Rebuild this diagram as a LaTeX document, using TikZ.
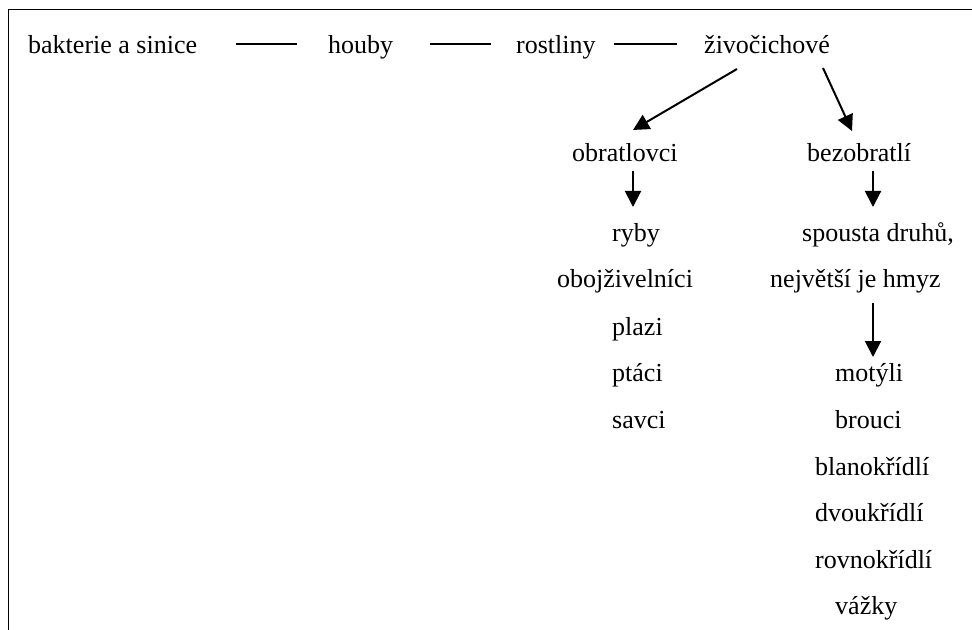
\documentclass[tikz,border=0pt]{standalone}
\usepackage{fontspec}
\setmainfont{Liberation Serif}
\usetikzlibrary{arrows.meta}
\begin{document}
\begin{tikzpicture}[x=1bp,y=-1bp,
  lbl/.style={anchor=base west,inner sep=0pt,font=\fontsize{26bp}{30bp}\selectfont},
  conn/.style={line width=1.6bp},
  arr/.style={line width=2bp,-{Triangle[length=16bp,width=16bp]}},
  frame/.style={line width=1.5bp}]
\useasboundingbox (0,0) rectangle (972,630);
\coordinate (fb) at (8.5,630);
\coordinate (fc) at (8.5,9.5);
\coordinate (fr) at (972,9.5);
\draw[frame] (fb) -- (fc) -- (fr);
% first row
\node[lbl] (bak) at (28,54) {bakterie a sinice};
\node[lbl] (hou) at (328,54) {houby};
\node[lbl] (ros) at (516,54) {rostliny};
\node[lbl] (ziv) at (704,54) {živočichové};
\coordinate (d1a) at (236,44); \coordinate (d1b) at (297,44);
\coordinate (d2a) at (430,44); \coordinate (d2b) at (491,44);
\coordinate (d3a) at (614,44); \coordinate (d3b) at (677,44);
\draw[conn] (d1a) -- (d1b);
\draw[conn] (d2a) -- (d2b);
\draw[conn] (d3a) -- (d3b);
% second row
\node[lbl] (obr) at (572,162) {obratlovci};
\node[lbl] (bez) at (807,162) {bezobratlí};
\coordinate (a1s) at (737,69); \coordinate (a1e) at (633,130);
\coordinate (a2s) at (823,68); \coordinate (a2e) at (852,131);
\draw[arr] (a1s) -- (a1e);
\draw[arr] (a2s) -- (a2e);
\coordinate (v1s) at (633,171); \coordinate (v1e) at (633,207);
\coordinate (v2s) at (873,171); \coordinate (v2e) at (873,207);
\draw[arr] (v1s) -- (v1e);
\draw[arr] (v2s) -- (v2e);
% left column
\node[lbl] (ryb) at (612,242) {ryby};
\node[lbl] (obo) at (557,288) {obojživelníci};
\node[lbl] (pla) at (612,335) {plazi};
\node[lbl] (pta) at (612,381) {ptáci};
\node[lbl] (sav) at (612,428) {savci};
% right column
\node[lbl] (spo) at (802,242) {spousta druhů,};
\node[lbl] (nej) at (770,288) {největší je hmyz};
\coordinate (v3s) at (873,303); \coordinate (v3e) at (873,357);
\draw[arr] (v3s) -- (v3e);
\node[lbl] (mot) at (835,381) {motýli};
\node[lbl] (bro) at (835,428) {brouci};
\node[lbl] (bla) at (815,475) {blanokřídlí};
\node[lbl] (dvo) at (815,521) {dvoukřídlí};
\node[lbl] (rov) at (815,568) {rovnokřídlí};
\node[lbl] (vaz) at (835,614) {vážky};
\end{tikzpicture}
\end{document}
